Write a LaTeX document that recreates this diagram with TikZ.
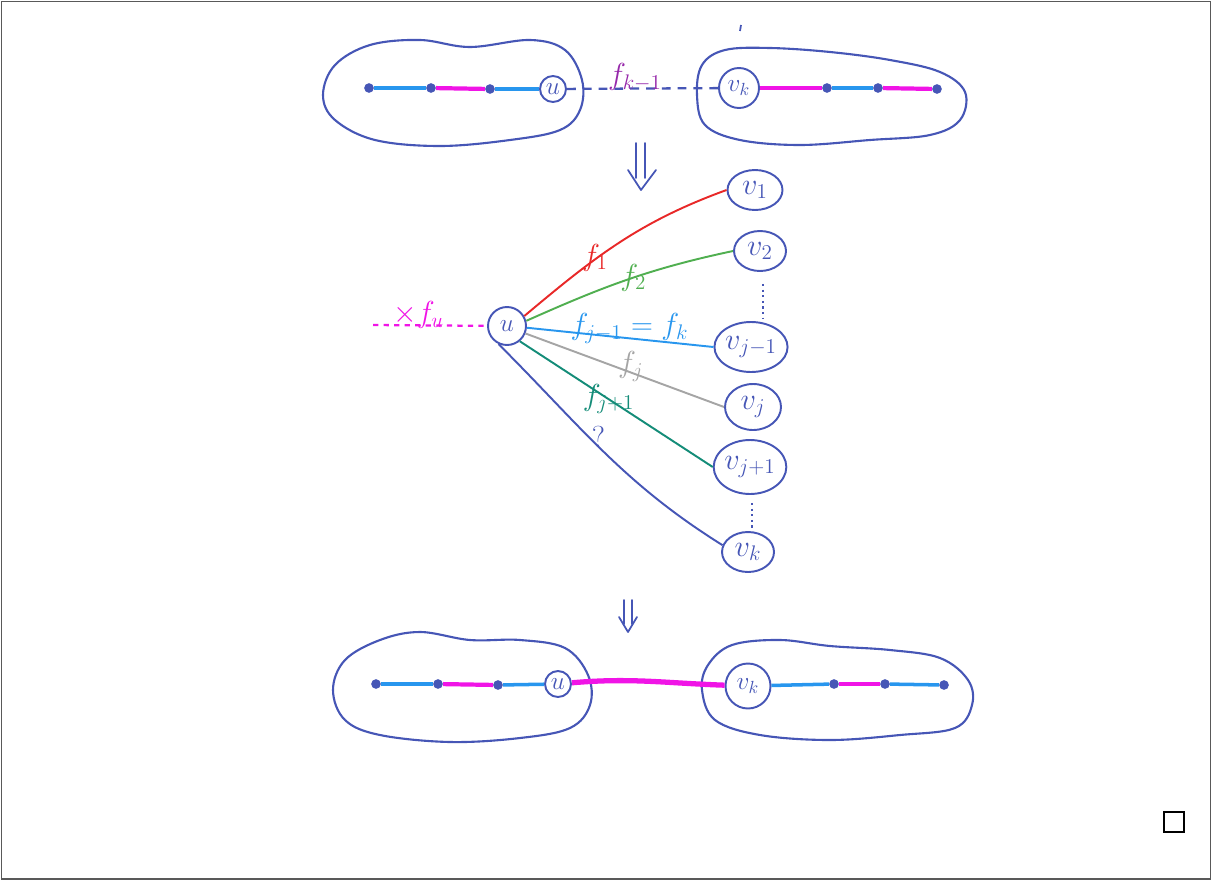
\documentclass[tikz,border=0pt]{standalone}
\usetikzlibrary{shapes.geometric}
\definecolor{dblue}{RGB}{70,86,182}
\definecolor{lblue}{RGB}{40,150,238}
\definecolor{mag}{RGB}{240,20,230}
\definecolor{purp}{RGB}{150,40,170}
\definecolor{ered}{RGB}{232,40,40}
\definecolor{egreen}{RGB}{80,175,80}
\definecolor{egray}{RGB}{165,165,165}
\definecolor{eteal}{RGB}{20,140,120}
\tikzset{
  blob/.style={draw=dblue,line width=1.2pt},
  dotnode/.style={circle,fill=dblue,inner sep=0pt,minimum size=5.5pt},
  unode/.style={circle,draw=dblue,line width=1.1pt,inner sep=0pt,text=dblue,font=\Large},
  vnode/.style={ellipse,draw=dblue,line width=1.1pt,inner sep=0pt,text=dblue,font=\LARGE},
  bl/.style={lblue,line width=2pt},
  mg/.style={mag,line width=2.4pt},
  edge/.style={line width=1.1pt},
  lab/.style={font=\LARGE,inner sep=1pt},
  dots/.style={dblue,line width=1.2pt,dotted},
  darrow/.style={dblue,line width=1pt,line cap=round,line join=round}
}
\begin{document}
\begin{tikzpicture}[x=0.02cm,y=-0.02cm]
\useasboundingbox (0,0) rectangle (1212,879);
\draw[gray!70!black,line width=0.6pt] (1.5,1.5) rectangle (1210.5,879);

% ---------- top ----------
\draw[blob] plot[smooth cycle,tension=0.6] coordinates {(323,95) (335,65) (370,45) (420,40) (470,47) (530,40) (565,50) (582,80) (580,110) (560,130) (510,140) (440,146) (375,140) (335,120)};
\draw[blob] plot[smooth cycle,tension=0.6] coordinates {(697,95) (702,65) (725,50) (770,48) (830,52) (890,60) (940,72) (965,92) (960,120) (930,135) (870,140) (800,145) (740,140) (705,125)};
\draw[dblue,line width=1pt] (741,25) -- (740,31);

\node[dotnode] (t1) at (369,88) {};
\node[dotnode] (t2) at (431,88) {};
\node[dotnode] (t3) at (490,89) {};
\node[unode,minimum size=0.52cm] (tu) at (553,89) {$u$};
\node[unode,minimum size=0.8cm] (tv) at (739,88) {$v_k$};
\node[dotnode] (r1) at (827,88) {};
\node[dotnode] (r2) at (878,88) {};
\node[dotnode] (r3) at (937,89) {};
\draw[bl] (t1) -- (t2);
\draw[mg] (t2) -- (t3);
\draw[bl] (t3) -- (tu);
\draw[mg] (tv) -- (r1);
\draw[bl] (r1) -- (r2);
\draw[mg] (r2) -- (r3);
\draw[dblue,line width=1.3pt,dash pattern=on 5pt off 4pt] (tu) -- node[lab,text=purp,pos=0.45,yshift=0.22cm] {$f_{k-1}$} (tv);

% arrow 1
\draw[darrow] (636,143) -- (636,178) (645,143) -- (645,178) (628,170) -- (641,190) -- (656,170);

% ---------- middle ----------
\node[unode,minimum size=0.76cm] (u) at (507,326) {$u$};
\node[vnode,minimum width=1.1cm,minimum height=0.8cm] (v1) at (755,190) {$v_1$};
\node[vnode,minimum width=1.04cm,minimum height=0.8cm] (v2) at (760,251) {$v_2$};
\node[vnode,minimum width=1.4cm,minimum height=1.0cm] (vj1) at (751,347) {$v_{j-1}$};
\node[vnode,minimum width=1.12cm,minimum height=0.92cm] (vj) at (753,407) {$v_j$};
\node[vnode,minimum width=1.36cm,minimum height=1.08cm] (vjp) at (750,467) {$v_{j+1}$};
\node[vnode,minimum width=1.04cm,minimum height=0.8cm] (vk) at (748,552) {$v_k$};

\coordinate (xl) at (373,325);
\draw[mag,line width=1.3pt,dashed] (xl) -- node[lab,text=mag,pos=0.4,yshift=0.2cm] {$\times f_u$} (u);

\draw[ered,edge] (u.30) to[out=40,in=200] node[lab,text=ered,pos=0.38,xshift=-0.05cm] {$f_1$} (v1.west);
\draw[egreen,edge] (u.15) to[out=24,in=192] node[lab,text=egreen,pos=0.53] {$f_2$} (v2.west);
\draw[lblue,edge] (u.-5) -- node[lab,text=lblue,pos=0.55,yshift=0.2cm] {$f_{j-1}=f_k$} (vj1.west);
\draw[egray,edge] (u.-22) -- node[lab,text=egray,pos=0.53,yshift=0.12cm] {$f_j$} (vj.west);
\draw[eteal,edge] (u.-50) -- node[lab,text=eteal,pos=0.46] {$f_{j+1}$} (vjp.west);
\draw[dblue,edge] (u.-115) to[out=-45,in=148] node[lab,text=dblue,pos=0.42,xshift=0.2cm] {$?$} (vk.165);

\draw[dots] (v2.south) ++(3,12) coordinate (d1a) -- ++(0,34) coordinate (d1b);
\draw[dots] (vjp.south) ++(2,8) coordinate (d2a) -- ++(0,28) coordinate (d2b);

% arrow 2
\draw[darrow] (624,600) -- (624,624) (632,600) -- (632,624) (619,617) -- (628,632) -- (637,617);

% ---------- bottom ----------
\draw[blob] plot[smooth cycle,tension=0.6] coordinates {(333,690) (345,660) (380,640) (420,632) (470,640) (520,640) (565,648) (588,675) (590,705) (570,728) (520,738) (450,742) (380,735) (345,720)};
\draw[blob] plot[smooth cycle,tension=0.6] coordinates {(702,690) (708,665) (732,645) (780,640) (830,646) (890,650) (940,658) (968,680) (972,705) (955,728) (900,735) (830,740) (760,735) (715,720)};

\node[dotnode] (b1) at (376,684) {};
\node[dotnode] (b2) at (438,684) {};
\node[dotnode] (b3) at (498,685) {};
\node[unode,minimum size=0.52cm] (bu) at (558,684) {$u$};
\node[unode,minimum size=0.9cm] (bv) at (748,686) {$v_k$};
\node[dotnode] (s1) at (834,684) {};
\node[dotnode] (s2) at (885,684) {};
\node[dotnode] (s3) at (944,685) {};
\draw[bl] (b1) -- (b2);
\draw[mg] (b2) -- (b3);
\draw[bl] (b3) -- (bu);
\draw[mag,line width=3pt] (bu) to[out=5,in=178] (bv);
\draw[bl] (bv) -- (s1);
\draw[mg] (s1) -- (s2);
\draw[bl] (s2) -- (s3);

% small square
\node[draw=black,line width=0.8pt,minimum size=0.4cm,inner sep=0pt] (sq) at (1174,822) {};
\end{tikzpicture}
\end{document}
